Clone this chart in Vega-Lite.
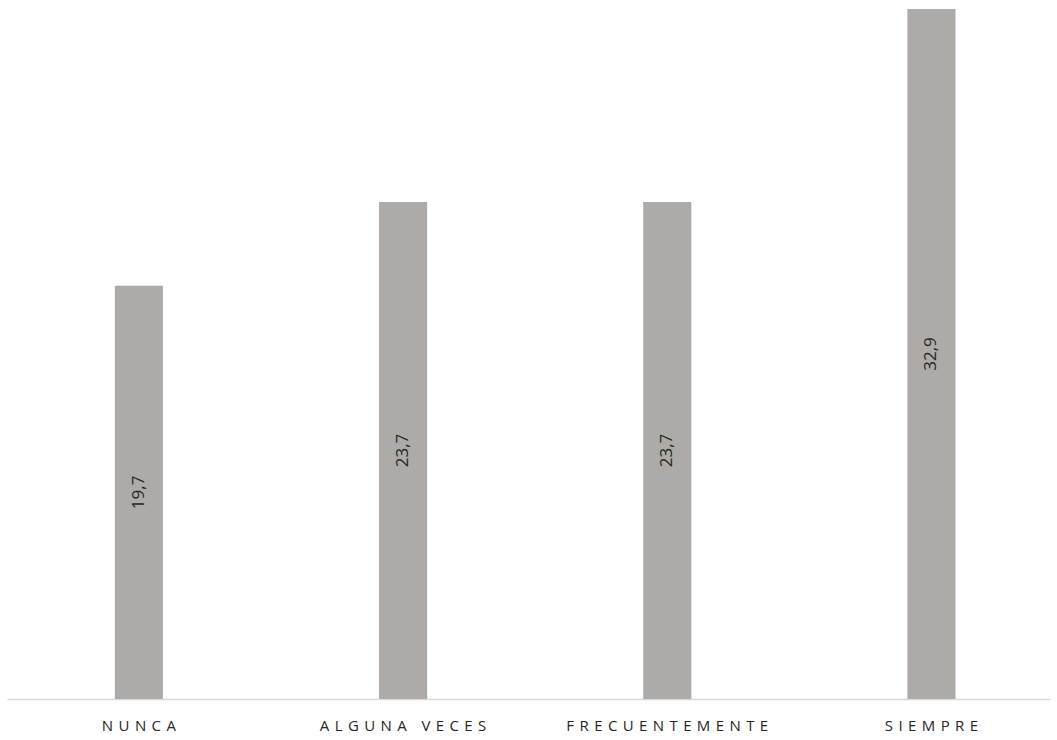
{
  "$schema": "https://vega.github.io/schema/vega-lite/v6.json",
  "autosize": {"type": "none"},
  "width": 1043,
  "height": 690,
  "padding": {"left": 7, "top": 9, "right": 7, "bottom": 41},
  "background": "white",
  "config": {"view": {"stroke": null}, "font": "Open Sans"},
  "data": {"values": [
    {"categoria": "NUNCA", "valor": 19.7, "etiqueta": "19,7"},
    {"categoria": "ALGUNA VECES", "valor": 23.7, "etiqueta": "23,7"},
    {"categoria": "FRECUENTEMENTE", "valor": 23.7, "etiqueta": "23,7"},
    {"categoria": "SIEMPRE", "valor": 32.9, "etiqueta": "32,9"}
  ]},
  "encoding": {
    "x": {
      "field": "categoria", "type": "nominal", "sort": null,
      "scale": {"paddingInner": 0.818, "paddingOuter": 0.383, "align": 0.533},
      "axis": {
        "title": null, "labelAngle": 0, "ticks": false,
        "domainColor": "#D9D9D9", "domainWidth": 1.5,
        "labelFont": "Open Sans", "labelFontSize": 15, "labelColor": "#262626",
        "labelPadding": 19, "labelLimit": 500, "labelOverlap": false,
        "labelExpr": "join(split(datum.label, ''), '\u00a0\u200a')"
      }
    }
  },
  "layer": [
    {
      "mark": {"type": "bar", "color": "#ADAAA8"},
      "encoding": {
        "y": {"field": "valor", "type": "quantitative",
              "scale": {"domain": [0, 32.9], "nice": false},
              "axis": null}
      }
    },
    {
      "mark": {"type": "text", "angle": 270, "fontSize": 17, "color": "#262626", "font": "Open Sans", "baseline": "middle", "align": "center"},
      "encoding": {
        "y": {"field": "valor", "type": "quantitative",
              "scale": {"domain": [0, 65.8], "nice": false},
              "axis": null},
        "text": {"field": "etiqueta"}
      }
    }
  ],
  "resolve": {"scale": {"y": "independent"}}
}
